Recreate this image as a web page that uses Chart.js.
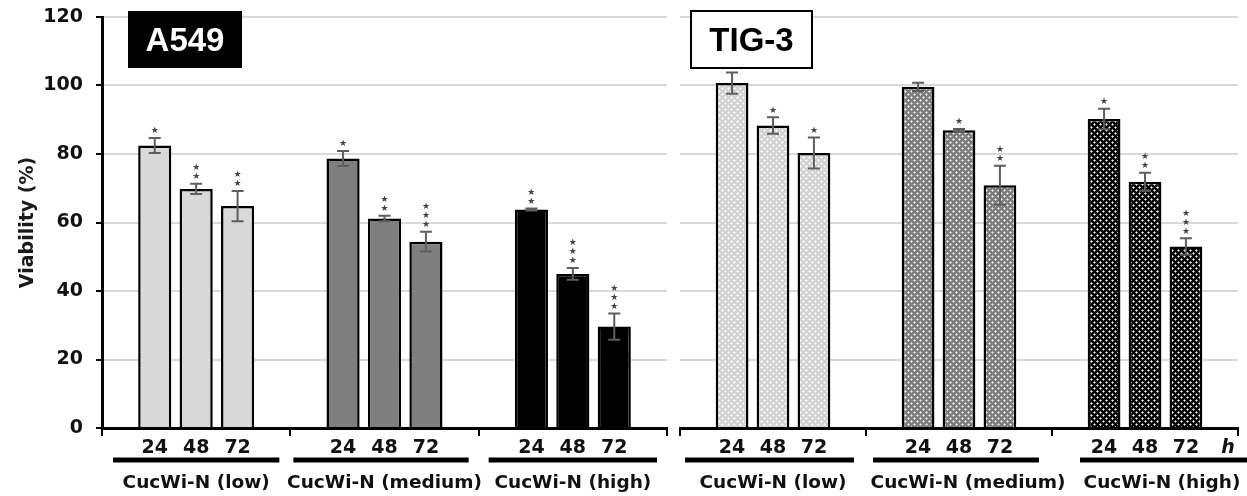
<!DOCTYPE html>
<html>
<head>
<meta charset="utf-8">
<script src="https://cdn.jsdelivr.net/npm/chart.js@4.4.0/dist/chart.umd.min.js"></script>
<style>
  html, body { margin: 0; padding: 0; background: #fff; }
  #wrap { position: relative; width: 1247px; height: 496px; overflow: hidden; }
  #leftChart { position: absolute; left: 0; top: 0; }
  #rightChart { position: absolute; left: 676px; top: 0; }
</style>
</head>
<body>
<div id="wrap">
  <canvas id="leftChart" width="672" height="496"></canvas>
  <canvas id="rightChart" width="571" height="496"></canvas>
</div>
<script>
const groups = ['CucWi-N (low)', 'CucWi-N (medium)', 'CucWi-N (high)'];
const hours = ['24', '48', '72'];
const yTicks = [0, 20, 40, 60, 80, 100, 120];

// A549 viability (%), one value per concentration group
const a549_24h = [82.5, 78.7, 63.8];
const a549_48h = [69.8, 61.2, 45.0];
const a549_72h = [64.8, 54.4, 29.6];
const a549_err24 = [2.2, 2.2, 0.3];
const a549_err48 = [1.5, 0.8, 1.7];
const a549_err72 = [4.4, 2.9, 3.8];
const a549_stars24 = [1, 1, 2];
const a549_stars48 = [2, 2, 3];
const a549_stars72 = [2, 3, 3];

// TIG-3 viability (%)
const tig3_24h = [100.7, 99.6, 90.2];
const tig3_48h = [88.3, 86.9, 71.9];
const tig3_72h = [80.3, 70.9, 53.0];
const tig3_err24 = [3.1, 1.2, 3.0];
const tig3_err48 = [2.4, 0.4, 2.6];
const tig3_err72 = [4.5, 5.7, 2.4];
const tig3_stars24 = [0, 0, 1];
const tig3_stars48 = [1, 1, 2];
const tig3_stars72 = [1, 2, 3];

Chart.defaults.font.family = '"DejaVu Sans", sans-serif';
Chart.defaults.animation = false;

// 6x6 tile: two plus-shaped light dots on a darker ground
function makePattern(dot, arm, ground) {
  const tile = document.createElement('canvas');
  tile.width = 6; tile.height = 6;
  const t = tile.getContext('2d');
  t.fillStyle = ground;
  t.fillRect(0, 0, 6, 6);
  [[1, 1], [4, 4]].forEach(([cx, cy]) => {
    t.fillStyle = arm;
    [[-1, 0], [1, 0], [0, -1], [0, 1]].forEach(([dx, dy]) => {
      t.fillRect((cx + dx + 6) % 6, (cy + dy + 6) % 6, 1, 1);
    });
    t.fillStyle = dot;
    t.fillRect(cx, cy, 1, 1);
  });
  return t.createPattern(tile, 'repeat');
}

const annotate = {
  id: 'annotate',
  afterDraw(chart, args, opts) {
    const ctx = chart.ctx;
    const xs = chart.scales.x;
    const ys = chart.scales.y;
    const area = chart.chartArea;
    ctx.save();

    chart.data.datasets.forEach((ds, i) => {
      const meta = chart.getDatasetMeta(i);
      meta.data.forEach((bar, j) => {
        const v = ds.data[j];
        const e = opts.errors[i][j];
        const top = ys.getPixelForValue(v + e);
        const bot = ys.getPixelForValue(v - e);
        ctx.strokeStyle = '#5e5e5e';
        ctx.lineWidth = 2;
        ctx.beginPath();
        ctx.moveTo(bar.x, top); ctx.lineTo(bar.x, bot);
        ctx.moveTo(bar.x - 6, top); ctx.lineTo(bar.x + 6, top);
        ctx.moveTo(bar.x - 6, bot); ctx.lineTo(bar.x + 6, bot);
        ctx.stroke();

        ctx.fillStyle = '#444';
        ctx.font = '9px "DejaVu Sans"';
        ctx.textAlign = 'center';
        ctx.textBaseline = 'middle';
        for (let k = 0; k < opts.stars[i][j]; k++) {
          ctx.fillText('\u2605', bar.x, top - 7 - k * 9);
        }

        ctx.fillStyle = '#111';
        ctx.font = 'bold 19px "DejaVu Sans"';
        ctx.textBaseline = 'alphabetic';
        ctx.fillText(hours[i], bar.x, area.bottom + 25);
      });
    });

    // group underlines and names
    const half = (xs.getPixelForValue(1) - xs.getPixelForValue(0)) / 2;
    groups.forEach((g, j) => {
      const c = xs.getPixelForValue(j);
      const [li, ri] = opts.insets[j];
      ctx.strokeStyle = '#000';
      ctx.lineWidth = 5;
      ctx.beginPath();
      ctx.moveTo(c - half + li, area.bottom + 32);
      ctx.lineTo(c + half - ri, area.bottom + 32);
      ctx.stroke();
      ctx.fillStyle = '#111';
      ctx.font = 'bold 18.5px "DejaVu Sans"';
      ctx.textAlign = 'center';
      ctx.textBaseline = 'alphabetic';
      ctx.fillText(g, c + opts.labelShift[j], area.bottom + 60);
    });

    if (opts.unit) {
      ctx.font = 'italic bold 19px "DejaVu Sans"';
      ctx.fillText(opts.unit, area.right - 10, area.bottom + 25);
    }

    // panel title box
    const b = opts.box;
    ctx.fillStyle = b.dark ? '#000' : '#fff';
    ctx.fillRect(b.x, b.y, b.w, b.h);
    if (!b.dark) {
      ctx.strokeStyle = '#000';
      ctx.lineWidth = 2;
      ctx.strokeRect(b.x, b.y, b.w, b.h);
    }
    ctx.fillStyle = b.dark ? '#fff' : '#000';
    ctx.font = 'bold 33px "Liberation Sans", Arial';
    ctx.textAlign = 'center';
    ctx.textBaseline = 'middle';
    ctx.fillText(b.text, b.x + b.w / 2, b.y + b.h / 2 + 2);
    ctx.restore();
  }
};

function makeScales(showY) {
  return {
    x: {
      offset: true,
      grid: { display: true, drawOnChartArea: false, drawTicks: true, tickLength: 8, color: '#000', lineWidth: 2 },
      border: { display: true, color: '#000', width: 3 },
      ticks: { display: false },
      afterFit: s => { s.height = 68; s.paddingLeft = 0; s.paddingRight = 0; }
    },
    y: {
      min: yTicks[0],
      max: yTicks[yTicks.length - 1],
      ticks: {
        display: showY,
        stepSize: yTicks[1] - yTicks[0],
        padding: 13,
        color: '#111',
        font: { size: 19, weight: 'bold' }
      },
      grid: { color: '#d9d9d9', lineWidth: 2, tickColor: '#000', tickLength: 6, drawTicks: showY },
      border: { display: showY, color: '#000', width: 3 },
      title: {
        display: showY,
        text: 'Viability (%)',
        color: '#1a1a1a',
        font: { size: 19, weight: 'bold' },
        padding: { top: 17, bottom: 0 }
      },
      afterFit: s => { s.width = showY ? 102 : 0; s.paddingTop = 0; s.paddingBottom = 0; }
    }
  };
}

function buildDatasets(series, colors) {
  return series.map((vals, i) => ({
    label: hours[i] + ' h',
    data: vals,
    backgroundColor: colors,
    borderColor: '#000',
    borderWidth: 2.5,
    categoryPercentage: 0.66,
    barPercentage: 0.8
  }));
}

function renderA549() {
  const ctx = document.getElementById('leftChart').getContext('2d');
  new Chart(ctx, {
    type: 'bar',
    data: {
      labels: groups,
      datasets: buildDatasets([a549_24h, a549_48h, a549_72h], ['#d9d9d9', '#7f7f7f', '#000000'])
    },
    options: {
      responsive: false,
      layout: { padding: { top: 17, right: 5, left: 0, bottom: 0 } },
      plugins: {
        legend: { display: false },
        tooltip: { enabled: false },
        annotate: {
          errors: [a549_err24, a549_err48, a549_err72],
          stars: [a549_stars24, a549_stars48, a549_stars72],
          insets: [[11, 11], [3, 10], [10, 10]],
          labelShift: [0, 0, 0],
          box: { text: 'A549', x: 128, y: 11, w: 114, h: 57, dark: true }
        }
      },
      scales: makeScales(true)
    },
    plugins: [annotate]
  });
}

function renderTIG3() {
  const ctx = document.getElementById('rightChart').getContext('2d');
  new Chart(ctx, {
    type: 'bar',
    data: {
      labels: groups,
      datasets: buildDatasets([tig3_24h, tig3_48h, tig3_72h], [
        makePattern('#ffffff', '#f0f0f0', '#d2d2d2'),
        makePattern('#eeeeee', '#c4c4c4', '#7c7c7c'),
        makePattern('#ffffff', '#9a9a9a', '#000000')
      ])
    },
    options: {
      responsive: false,
      layout: { padding: { top: 17, right: 9, left: 4, bottom: 0 } },
      plugins: {
        legend: { display: false },
        tooltip: { enabled: false },
        annotate: {
          errors: [tig3_err24, tig3_err48, tig3_err72],
          stars: [tig3_stars24, tig3_stars48, tig3_stars72],
          insets: [[5, 12], [7, 13], [28, -9]],
          labelShift: [0, 9, 17],
          unit: 'h',
          box: { text: 'TIG-3', x: 15, y: 11, w: 121, h: 57, dark: false }
        }
      },
      scales: makeScales(false)
    },
    plugins: [annotate]
  });
}

renderA549();
renderTIG3();
</script>
</body>
</html>
